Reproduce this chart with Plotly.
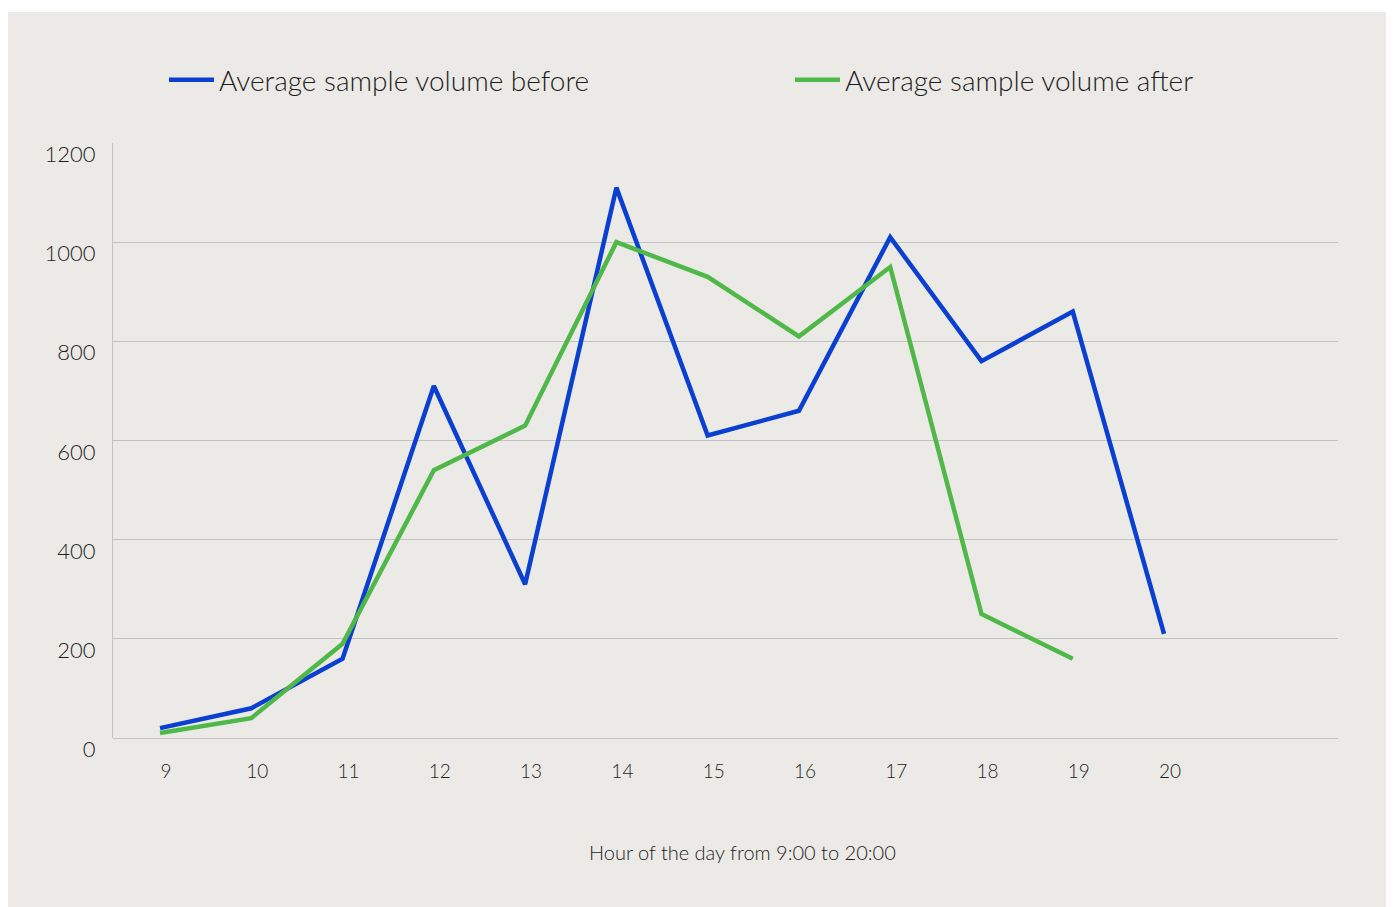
import plotly.graph_objects as go

hours = [9, 10, 11, 12, 13, 14, 15, 16, 17, 18, 19, 20]
before = [20, 60, 160, 710, 310, 1110, 610, 660, 1010, 760, 860, 210]
hours_after = [9, 10, 11, 12, 13, 14, 15, 16, 17, 18, 19]
after = [10, 40, 190, 540, 630, 1000, 930, 810, 950, 250, 160]
y_ticks = [0, 200, 400, 600, 800, 1000, 1200]
x_title = "Hour of the day from 9:00 to 20:00"

BG = "#ebeae6"
GRID = "#c2c2c2"
FONT = "Lato"
TXT = "#1e1e1e"
WT = 300

W, H = 1386, 899
ML, MR, MT, MB = 105, 56, 135, 169
PW = W - ML - MR
PH = H - MT - MB

fig = go.Figure()
fig.add_trace(go.Scatter(x=hours, y=before, mode="lines", name="Average sample volume before",
                         line=dict(color="#0a3fd2", width=4.5), legend="legend"))
fig.add_trace(go.Scatter(x=hours_after, y=after, mode="lines", name="Average sample volume after",
                         line=dict(color="#50b848", width=4.5), legend="legend2"))

# background panel (offset from top like the reference)
fig.add_shape(type="rect", xref="paper", yref="paper", layer="below",
              x0=-ML / PW, x1=1 + MR / PW, y0=-MB / PH, y1=1 + (MT - 4) / PH,
              fillcolor=BG, line=dict(width=0))

fig.add_annotation(text=x_title, xref="paper", yref="paper", showarrow=False,
                   x=(742 - 8 - ML) / PW, y=-(852 - 8 - (MT + PH)) / PH,
                   xanchor="center", yanchor="middle",
                   font=dict(family=FONT, size=20, color=TXT, weight=WT))

leg_common = dict(orientation="h", xanchor="left", yanchor="middle",
                  y=1 + (MT - 72) / PH, itemwidth=45,
                  font=dict(family=FONT, size=28, color=TXT, weight=WT),
                  bgcolor="rgba(0,0,0,0)", borderwidth=0)

fig.update_layout(
    width=W, height=H,
    margin=dict(l=ML, r=MR, t=MT, b=MB, pad=0),
    paper_bgcolor="white", plot_bgcolor="rgba(0,0,0,0)",
    font=dict(family=FONT, color=TXT, size=18),
    showlegend=True,
    legend=dict(x=(156 - ML) / PW, **leg_common),
    legend2=dict(x=(782 - ML) / PW, **leg_common),
    xaxis=dict(range=[8.485, 21.906], tickvals=hours, ticktext=[str(h) for h in hours],
               showgrid=False, zeroline=False, showline=False, ticks="",
               ticklabelstandoff=20, ticklabelshift=6,
               tickfont=dict(family=FONT, size=19, color=TXT, weight=WT)),
    yaxis=dict(range=[0, 1200], tickvals=y_ticks, ticktext=[str(v) for v in y_ticks],
               showgrid=True, gridcolor=GRID, gridwidth=1,
               zeroline=True, zerolinecolor=GRID, zerolinewidth=1,
               showline=True, linecolor=GRID, linewidth=1,
               ticks="", ticklabelposition="outside bottom", ticklabelstandoff=12,
               ticklabelshift=-4,
               tickfont=dict(family=FONT, size=22, color=TXT, weight=WT)),
)

fig.write_html("out.html")
